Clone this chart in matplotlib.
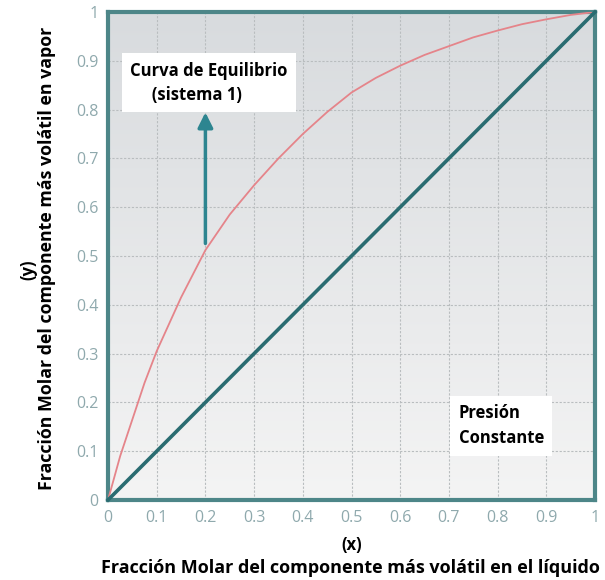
import matplotlib.pyplot as plt
from matplotlib.colors import LinearSegmentedColormap
import numpy as np

# equilibrium curve
x_eq = [0, 0.025, 0.05, 0.075, 0.1, 0.15, 0.2, 0.25, 0.3, 0.35, 0.4, 0.45,
        0.5, 0.55, 0.6, 0.65, 0.7, 0.75, 0.8, 0.85, 0.9, 0.95, 1.0]
y_eq = [0, 0.09, 0.165, 0.24, 0.305, 0.415, 0.512, 0.585, 0.645, 0.70, 0.75, 0.795,
        0.835, 0.865, 0.89, 0.912, 0.93, 0.948, 0.962, 0.975, 0.985, 0.994, 1.0]
x_diag = [0, 1]
y_diag = [0, 1]
ticks = [0, 0.1, 0.2, 0.3, 0.4, 0.5, 0.6, 0.7, 0.8, 0.9, 1]
tick_labels = ['0', '0.1', '0.2', '0.3', '0.4', '0.5', '0.6', '0.7', '0.8', '0.9', '1']

plt.rcParams['font.family'] = ['Open Sans', 'DejaVu Sans']

fig = plt.figure(figsize=(6.05, 5.8), dpi=100)
ax = fig.add_axes([108/605, 80/580, 487/605, 488/580])

# grey gradient background, light at the bottom, darker at the top
bg = LinearSegmentedColormap.from_list('bg', ['#f4f4f4', '#d8dbde'])
grad = np.linspace(0, 1, 256).reshape(-1, 1)
ax.imshow(grad, extent=(0, 1, 0, 1), cmap=bg, aspect='auto',
          origin='lower', zorder=0)

ax.set_xlim(0, 1)
ax.set_ylim(0, 1)
ax.set_xticks(ticks)
ax.set_yticks(ticks)
ax.set_xticklabels(tick_labels)
ax.set_yticklabels(tick_labels)
ax.grid(True, color='#b9bdbf', linestyle=(0, (2, 1.5)), linewidth=0.8, zorder=1)
ax.tick_params(colors='#8fa9ad', labelsize=11.5, length=0, pad=7)
for s in ax.spines.values():
    s.set_color('#4d8688')
    s.set_linewidth(3)

ax.plot(x_eq, y_eq, color='#e5848a', lw=1.3, zorder=3)
ax.plot(x_diag, y_diag, color='#2a6c71', lw=2.6, zorder=3, clip_on=False)

ax.annotate('', xy=(0.2, 0.8), xytext=(0.2, 0.52),
            arrowprops=dict(arrowstyle='-|>,head_width=0.45,head_length=0.9',
                            color='#2d8590', lw=2.5), zorder=4)

ax.text(0.045, 0.855, 'Curva de Equilibrio\n     (sistema 1)', fontsize=12,
        fontweight='bold', va='center', ha='left', linespacing=1.45,
        bbox=dict(facecolor='white', edgecolor='none', pad=6), zorder=5)
ax.text(0.72, 0.152, 'Presión\nConstante', fontsize=12, fontweight='bold',
        va='center', ha='left', linespacing=1.5,
        bbox=dict(facecolor='white', edgecolor='none', pad=6), zorder=5)

fig.text(352/605, 1 - 545/580, '(x)', fontsize=12, fontweight='bold',
         ha='center', va='center')
fig.text(350/605, 1 - 568/580,
         'Fracción Molar del componente más volátil en el líquido',
         fontsize=13, fontweight='bold', ha='center', va='center')
fig.text(28/605, 1 - 270/580, '(y)', fontsize=12, fontweight='bold',
         ha='center', va='center', rotation=90)
fig.text(47/605, 1 - 258/580,
         'Fracción Molar del componente más volátil en vapor',
         fontsize=12.8, fontweight='bold', ha='center', va='center', rotation=90)

fig.savefig('out.png', dpi=100)
